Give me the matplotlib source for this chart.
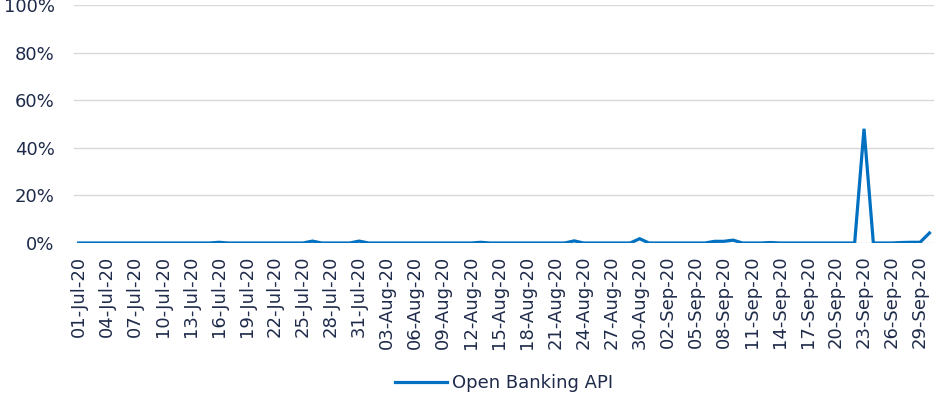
import matplotlib
matplotlib.use('Agg')
import matplotlib.pyplot as plt
import pandas as pd

# daily share, Jul-Sep 2020
dates = pd.date_range('2020-07-01', '2020-09-30', freq='D')
labels = [d.strftime('%d-%b-%y') for d in dates]
series_name = 'Open Banking API'
values = [0, 0, 0, 0, 0, 0, 0, 0, 0, 0,
          0, 0, 0, 0, 0, 0.3, 0, 0, 0, 0,
          0, 0, 0, 0, 0, 0.8, 0, 0, 0, 0,
          0.8, 0, 0, 0, 0, 0, 0, 0, 0, 0,
          0, 0, 0, 0.3, 0, 0, 0, 0, 0, 0,
          0, 0, 0, 0.9, 0, 0, 0, 0, 0, 0,
          1.8, 0, 0, 0, 0, 0, 0, 0, 0.7, 0.7,
          1.2, 0, 0, 0, 0.2, 0, 0, 0, 0, 0,
          0, 0, 0, 0, 48, 0, 0, 0, 0.2, 0.3,
          0.3, 4.2]

txt = '#1f2b4a'
plt.rcParams['font.family'] = ['DejaVu Sans']

fig = plt.figure(figsize=(9.36, 4.04), dpi=100)
ax = fig.add_axes([74/936, 1-243/404, 1-74/936-0.002, (243-5)/404])

x = list(range(len(values)))
ax.plot(x, values, color='#0070c0', lw=2.3, label=series_name, solid_joinstyle='miter')

ax.set_xlim(-0.5, len(values) - 0.5)
ax.set_ylim(0, 100)
ax.set_yticks([0, 20, 40, 60, 80, 100])
ax.set_yticklabels(['%d%%' % v for v in [0, 20, 40, 60, 80, 100]])
ax.set_xticks(x[::3])
ax.set_xticklabels(labels[::3], rotation=90)
ax.grid(axis='y', color='#d9d9d9', lw=1)
ax.set_axisbelow(True)
for s in ax.spines.values():
    s.set_visible(False)
ax.tick_params(axis='both', length=0, labelsize=13, colors=txt)
ax.tick_params(axis='x', pad=9)
ax.tick_params(axis='y', pad=14)

fig.legend(loc='center', bbox_to_anchor=(504/936, 0.052), frameon=False,
           fontsize=13, labelcolor=txt, handlelength=2.9, handletextpad=0.3)

fig.savefig('out.png', dpi=100)
